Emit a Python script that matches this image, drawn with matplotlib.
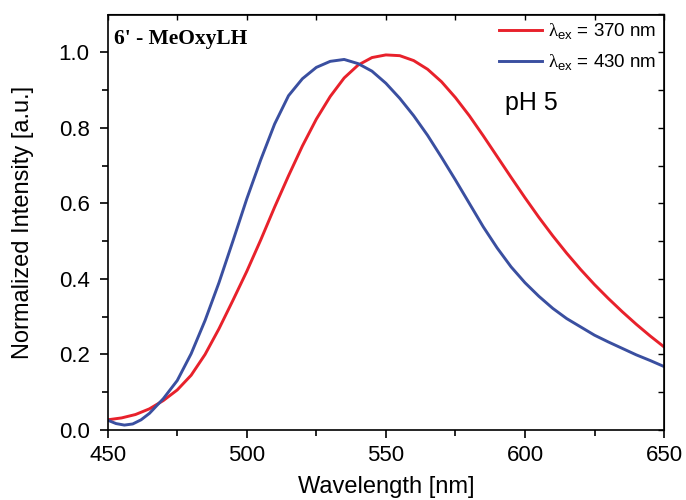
import numpy as np
import matplotlib.pyplot as plt

# emission spectra (wavelength in nm, normalized intensity)
wl_370 = [450, 455, 460, 465, 470, 475, 480, 485, 490, 495, 500, 505, 510, 515, 520, 525,
          530, 535, 540, 545, 550, 555, 560, 565, 570, 575, 580, 585, 590, 595, 600, 605,
          610, 615, 620, 625, 630, 635, 640, 645, 650]
int_370 = [0.027, 0.032, 0.041, 0.056, 0.078, 0.106, 0.145, 0.200, 0.268, 0.343, 0.420, 0.503,
           0.590, 0.673, 0.752, 0.823, 0.883, 0.932, 0.966, 0.986, 0.993, 0.991, 0.978, 0.955,
           0.922, 0.880, 0.832, 0.779, 0.724, 0.669, 0.615, 0.563, 0.514, 0.468, 0.425, 0.385,
           0.348, 0.313, 0.280, 0.249, 0.220]

wl_430 = [450, 453, 456, 459, 462, 465, 470, 475, 480, 485, 490, 495, 500, 505, 510, 515,
          520, 525, 530, 535, 540, 545, 550, 555, 560, 565, 570, 575, 580, 585, 590, 595,
          600, 605, 610, 615, 620, 625, 630, 635, 640, 645, 650]
int_430 = [0.026, 0.017, 0.013, 0.016, 0.027, 0.044, 0.083, 0.131, 0.202, 0.290, 0.390, 0.500,
           0.612, 0.715, 0.810, 0.885, 0.930, 0.960, 0.976, 0.981, 0.970, 0.950, 0.918, 0.878,
           0.832, 0.780, 0.722, 0.662, 0.600, 0.538, 0.482, 0.432, 0.390, 0.354, 0.322, 0.295,
           0.273, 0.251, 0.233, 0.216, 0.199, 0.184, 0.168]

plt.rcParams['font.family'] = ['Liberation Sans', 'DejaVu Sans']
plt.rcParams['mathtext.fontset'] = 'custom'
plt.rcParams['mathtext.rm'] = 'Liberation Serif'
plt.rcParams['mathtext.sf'] = 'Liberation Sans'

fig = plt.figure(figsize=(6.86, 5.0), dpi=100)
ax = fig.add_axes([0.157, 0.14, 0.811, 0.831])

ax.plot(wl_370, int_370, color='#e8212b', lw=2.1, label=r'$\mathrm{\lambda}_{\mathsf{ex}}$ = 370 nm')
ax.plot(wl_430, int_430, color='#3a4fa0', lw=2.1, label=r'$\mathrm{\lambda}_{\mathsf{ex}}$ = 430 nm')

ax.set_xlim(450, 650)
ax.set_ylim(0, 1.1)
ax.set_xticks([450, 500, 550, 600, 650])
ax.set_xticks(np.arange(475, 650, 50), minor=True)
ax.set_yticks([0.0, 0.2, 0.4, 0.6, 0.8, 1.0])
ax.set_yticks(np.arange(0.1, 1.1, 0.2), minor=True)
ax.tick_params(which='both', direction='out', labelsize=16, width=1.2)
ax.tick_params(axis='x', which='both', pad=5)
ax.tick_params(axis='y', which='both', pad=7)
ax.tick_params(which='major', length=6)
ax.tick_params(which='minor', length=4)
for s in ax.spines.values():
    s.set_linewidth(1.2)

sx = ax.secondary_xaxis('top')
sx.set_xticks(np.arange(450, 651, 25))
sx.set_xticklabels([])
sx.tick_params(direction='in', length=4, width=1.0)
sy = ax.secondary_yaxis('right')
sy.set_yticks(np.arange(0.0, 1.11, 0.1))
sy.set_yticklabels([])
sy.tick_params(direction='in', length=4, width=1.0)

ax.set_xlabel('Wavelength [nm]', fontsize=17, labelpad=7)
ax.set_ylabel('Normalized Intensity [a.u.]', fontsize=17, labelpad=18)

ax.text(0.012, 0.966, "6' - MeOxyLH", transform=ax.transAxes, ha='left', va='top',
        fontsize=15.5, fontweight='bold', family='Liberation Serif')
ax.text(0.714, 0.787, 'pH 5', transform=ax.transAxes, ha='left', va='center', fontsize=18)

ax.legend(loc='upper right', frameon=False, fontsize=13.5, handlelength=2.3,
          handletextpad=0.35, labelspacing=0.55, borderaxespad=0.0)

fig.savefig('out.png', dpi=100)
